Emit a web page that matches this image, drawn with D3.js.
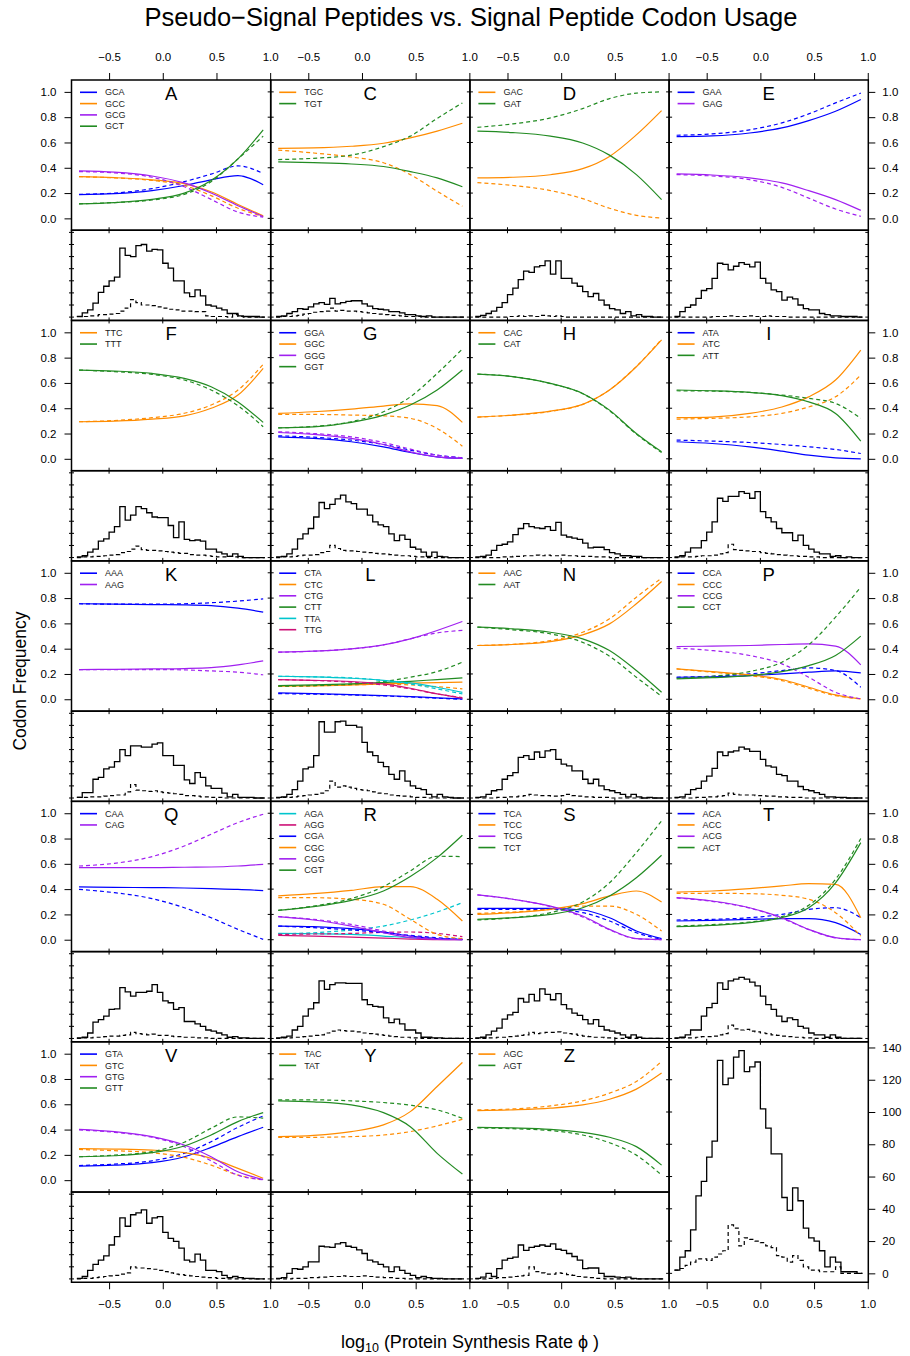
<!DOCTYPE html>
<html><head><meta charset="utf-8">
<script src="https://cdn.jsdelivr.net/npm/d3@7"></script>
<style>
body{margin:0;background:#fff}
svg{display:block}
text{font-family:"Liberation Sans",Arial,Helvetica,sans-serif}
</style>
</head><body>
<svg id="chart" width="910" height="1356"></svg>
<script>
// ---------------- DATA ----------------
const chartTitle = "Pseudo\u2212Signal Peptides vs. Signal Peptide Codon Usage";
const phiGrid = [-0.78, -0.45, -0.1, 0.2, 0.45, 0.7, 0.935];
const binStart = -0.8, binWidth = 0.05;
const xTickValues = [-0.5, 0, 0.5, 1.0];
const freqTickValues = [0, 0.2, 0.4, 0.6, 0.8, 1.0];
const countTickValues = [0, 20, 40, 60, 80, 100, 120, 140];
const panelIds = ["A","C","D","E","F","G","H","I","K","L","N","P","Q","R","S","T","V","Y","Z"];

const A_codons = ["GCA","GCC","GCG","GCT"];
const A_solid = [[0.187,0.195,0.22,0.26,0.305,0.338,0.266],[0.33,0.322,0.305,0.275,0.21,0.11,0.02],[0.375,0.365,0.335,0.28,0.20,0.10,0.015],[0.115,0.125,0.15,0.20,0.30,0.47,0.70]];
const A_dashed = [[0.19,0.20,0.235,0.29,0.35,0.415,0.355],[0.33,0.32,0.30,0.26,0.18,0.08,0.015],[0.37,0.36,0.325,0.25,0.15,0.05,0.01],[0.115,0.125,0.145,0.19,0.29,0.47,0.65]];
const A_histSolid = [1,7,12,23,41,51,60,66,114,102,100,118,120,109,112,111,89,81,60,60,40,34,45,35,20,18,15,12,6,6,2,1,1,1,0];
const A_histDashed = [1,1,2,2,4,4,5,6,10,15,29,24,20,20,19,17,15,13,12,10,10,10,9,9,2,1,1,1,0,4,1,0,0,0,0];

const C_codons = ["TGC","TGT"];
const C_solid = [[0.554,0.557,0.57,0.594,0.636,0.69,0.752],[0.446,0.44,0.43,0.41,0.37,0.32,0.25]];
const C_dashed = [[0.54,0.517,0.485,0.44,0.346,0.214,0.095],[0.465,0.475,0.50,0.567,0.65,0.79,0.913]];
const C_histSolid = [1,2,6,9,14,13,17,22,24,21,31,22,24,26,27,27,22,18,14,13,12,9,9,7,4,4,2,1,2,0,0,0,0,0,0];
const C_histDashed = [0,1,1,2,3,5,6,8,9,10,15,10,11,10,10,9,8,7,6,5,4,3,3,2,1,1,1,0,0,0,0,0,0,0,0];

const D_codons = ["GAC","GAT"];
const D_solid = [[0.32,0.325,0.345,0.393,0.49,0.66,0.852],[0.689,0.678,0.65,0.596,0.50,0.346,0.148]];
const D_dashed = [[0.282,0.26,0.22,0.156,0.08,0.024,0.003],[0.72,0.747,0.794,0.868,0.947,0.99,1.0]];
const D_histSolid = [1,3,6,10,16,24,37,48,62,76,74,83,85,93,71,93,64,64,56,51,42,34,39,28,20,14,12,6,9,2,4,1,1,0,0];
const D_histDashed = [0,0,0,0,0,0,1,1,2,1,2,1,3,2,1,2,1,0,0,0,0,0,0,0,0,0,0,0,0,0,0,0,0,0,0];

const E_codons = ["GAA","GAG"];
const E_solid = [[0.646,0.652,0.675,0.715,0.773,0.847,0.94],[0.351,0.343,0.32,0.28,0.219,0.148,0.063]];
const E_dashed = [[0.657,0.668,0.70,0.755,0.826,0.913,0.99],[0.346,0.335,0.306,0.245,0.16,0.074,0.016]];
const E_histSolid = [1,9,16,20,31,44,47,64,89,87,78,84,90,87,83,91,64,56,45,42,28,33,30,20,14,12,12,6,4,2,2,1,1,1,0];
const E_histDashed = [0,0,0,0,0,0,0,1,1,1,2,1,1,1,2,1,1,2,1,1,1,0,0,0,0,0,0,0,0,0,0,0,0,0,0];

const F_codons = ["TTC","TTT"];
const F_solid = [[0.293,0.298,0.314,0.34,0.40,0.504,0.715],[0.702,0.694,0.675,0.636,0.57,0.45,0.288]];
const F_dashed = [[0.293,0.303,0.325,0.36,0.425,0.544,0.747],[0.702,0.689,0.668,0.623,0.544,0.42,0.253]];
const F_histSolid = [1,3,9,14,27,31,42,51,84,62,70,84,81,74,67,66,66,53,33,59,30,28,29,27,14,14,9,6,2,6,2,0,0,0,0];
const F_histDashed = [0,1,1,2,2,3,4,5,8,10,14,19,13,12,12,11,10,9,8,7,7,5,4,4,3,2,1,1,2,1,0,0,0,0,0];

const G_codons = ["GGA","GGC","GGG","GGT"];
const G_solid = [[0.174,0.161,0.135,0.095,0.05,0.016,0.003],[0.359,0.372,0.393,0.417,0.435,0.42,0.288],[0.208,0.193,0.161,0.113,0.055,0.016,0.003],[0.245,0.253,0.288,0.346,0.425,0.544,0.702]];
const G_dashed = [[0.182,0.171,0.148,0.113,0.069,0.029,0.008],[0.351,0.351,0.346,0.34,0.32,0.24,0.10],[0.214,0.20,0.174,0.129,0.077,0.029,0.008],[0.245,0.256,0.293,0.372,0.49,0.675,0.868]];
const G_histSolid = [1,2,6,14,31,39,48,67,91,81,88,97,103,92,89,80,80,70,59,54,51,39,28,37,30,17,14,9,2,9,2,1,0,0,0];
const G_histDashed = [0,1,1,2,3,4,4,5,8,10,20,15,12,11,11,10,9,8,7,6,6,5,4,3,3,2,1,1,0,0,0,0,0,0,0];

const H_codons = ["CAC","CAT"];
const H_solid = [[0.33,0.346,0.377,0.43,0.544,0.728,0.94],[0.67,0.65,0.596,0.517,0.385,0.20,0.055]];
const H_dashed = [[0.33,0.345,0.375,0.43,0.545,0.73,0.945],[0.67,0.65,0.595,0.515,0.38,0.195,0.05]];
const H_histSolid = [1,2,4,12,20,22,26,38,48,56,51,49,48,51,45,58,37,34,32,30,24,16,17,17,13,8,6,3,3,2,2,0,0,0,0];
const H_histDashed = [0,0,0,0,0,1,1,2,2,3,3,4,3,4,3,3,4,3,3,2,2,2,1,1,1,0,0,0,0,0,0,0,0,0,0];

const I_codons = ["ATA","ATC","ATT"];
const I_solid = [[0.135,0.121,0.095,0.061,0.029,0.008,0.0],[0.325,0.33,0.359,0.41,0.49,0.623,0.86],[0.544,0.538,0.525,0.50,0.45,0.359,0.14]];
const I_dashed = [[0.148,0.14,0.129,0.113,0.095,0.074,0.042],[0.314,0.32,0.332,0.359,0.41,0.49,0.662],[0.538,0.535,0.525,0.504,0.478,0.438,0.32]];
const I_histSolid = [1,3,9,16,16,28,42,59,98,93,101,101,109,106,98,109,76,66,59,48,41,41,28,37,20,14,9,6,6,2,3,0,1,0,0];
const I_histDashed = [0,1,1,1,2,3,3,4,6,8,22,13,12,11,10,10,8,7,6,5,4,3,3,2,2,1,1,0,0,0,0,0,0,0,0];

const K_codons = ["AAA","AAG"];
const K_solid = [[0.755,0.752,0.749,0.747,0.741,0.72,0.689],[0.235,0.237,0.24,0.243,0.25,0.272,0.303]];
const K_dashed = [[0.755,0.752,0.752,0.755,0.763,0.776,0.794],[0.235,0.235,0.235,0.232,0.224,0.214,0.193]];
const K_histSolid = [1,9,9,31,34,48,51,60,80,70,86,86,84,84,89,91,70,70,54,54,30,24,42,34,20,16,16,8,2,6,1,1,1,0,0];
const K_histDashed = [1,1,2,2,2,3,4,5,5,10,22,13,12,11,12,10,9,8,7,6,4,4,3,2,2,1,1,0,0,0,0,0,0,0,0];

const L_codons = ["CTA","CTC","CTG","CTT","TTA","TTG"];
const L_solid = [[0.05,0.045,0.037,0.029,0.021,0.011,0.003],[0.103,0.106,0.113,0.121,0.127,0.132,0.135],[0.372,0.38,0.398,0.43,0.478,0.544,0.615],[0.108,0.113,0.121,0.132,0.142,0.156,0.169],[0.182,0.177,0.166,0.15,0.129,0.095,0.055],[0.156,0.15,0.14,0.121,0.087,0.042,0.008]];
const L_dashed = [[0.045,0.04,0.034,0.026,0.018,0.008,0.0],[0.103,0.106,0.113,0.119,0.113,0.10,0.082],[0.372,0.38,0.398,0.43,0.478,0.525,0.544],[0.103,0.108,0.119,0.14,0.174,0.219,0.293],[0.182,0.177,0.169,0.148,0.121,0.082,0.042],[0.156,0.148,0.135,0.113,0.082,0.042,0.013]];
const L_histSolid = [1,2,6,14,28,48,51,70,126,109,109,126,127,120,120,117,92,76,70,59,52,39,31,45,28,20,16,14,6,2,6,2,1,0,0];
const L_histDashed = [0,1,1,2,3,4,5,6,8,12,28,18,20,18,16,14,13,12,10,8,7,5,4,3,3,2,1,1,0,0,0,0,0,0,0];

const N_codons = ["AAC","AAT"];
const N_solid = [[0.425,0.433,0.456,0.509,0.596,0.755,0.931],[0.57,0.557,0.53,0.478,0.385,0.227,0.055]];
const N_dashed = [[0.425,0.435,0.464,0.53,0.636,0.807,0.958],[0.57,0.549,0.517,0.45,0.34,0.174,0.024]];
const N_histSolid = [1,2,6,12,14,31,37,42,67,70,64,76,67,78,80,64,56,53,45,45,31,24,31,20,14,12,9,6,2,6,2,0,1,0,0];
const N_histDashed = [0,0,0,0,1,1,2,2,3,4,6,5,4,4,3,3,4,6,4,3,2,2,1,1,1,0,0,0,0,0,0,0,0,0,0];

const P_codons = ["CCA","CCC","CCG","CCT"];
const P_solid = [[0.174,0.177,0.187,0.20,0.214,0.224,0.208],[0.24,0.219,0.193,0.156,0.095,0.034,0.003],[0.417,0.42,0.425,0.433,0.438,0.42,0.272],[0.161,0.171,0.187,0.219,0.266,0.346,0.499]];
const P_dashed = [[0.174,0.182,0.20,0.227,0.248,0.227,0.095],[0.24,0.214,0.187,0.148,0.087,0.029,0.003],[0.404,0.385,0.346,0.28,0.174,0.055,0.003],[0.166,0.182,0.219,0.293,0.43,0.649,0.887]];
const P_histSolid = [1,2,6,14,16,28,36,49,76,70,76,78,84,81,77,77,64,53,51,39,37,28,28,19,14,12,9,6,2,2,1,1,0,0,0];
const P_histDashed = [0,0,0,0,1,1,2,2,3,4,8,6,5,5,5,4,4,3,3,2,2,1,1,1,0,0,0,0,0,0,0,0,0,0,0];

const Q_codons = ["CAA","CAG"];
const Q_solid = [[0.417,0.414,0.412,0.409,0.404,0.398,0.388],[0.57,0.57,0.57,0.573,0.575,0.583,0.596]];
const Q_dashed = [[0.398,0.372,0.325,0.253,0.174,0.082,0.003],[0.583,0.604,0.657,0.741,0.834,0.926,0.992]];
const Q_histSolid = [1,2,9,27,31,37,48,49,84,77,70,76,76,78,89,76,62,59,48,51,28,28,24,20,14,12,9,6,2,3,1,1,0,0,0];
const Q_histDashed = [0,1,1,2,2,3,4,4,5,6,10,8,7,6,7,5,5,4,3,3,2,2,1,1,1,0,0,0,0,0,0,0,0,0,0];

const R_codons = ["AGA","AGG","CGA","CGC","CGG","CGT"];
const R_solid = [[0.05,0.047,0.042,0.029,0.016,0.008,0.003],[0.034,0.029,0.021,0.013,0.005,0.0,0.0],[0.108,0.103,0.087,0.061,0.029,0.008,0.0],[0.346,0.364,0.39,0.42,0.42,0.32,0.148],[0.182,0.156,0.108,0.055,0.016,0.003,0.0],[0.232,0.261,0.311,0.385,0.499,0.649,0.826]];
const R_dashed = [[0.047,0.055,0.077,0.108,0.156,0.219,0.293],[0.042,0.045,0.05,0.058,0.061,0.05,0.024],[0.108,0.095,0.077,0.055,0.034,0.016,0.003],[0.332,0.332,0.32,0.28,0.161,0.042,0.008],[0.182,0.161,0.121,0.069,0.029,0.008,0.003],[0.232,0.266,0.325,0.42,0.544,0.66,0.657]];
const R_histSolid = [1,2,4,14,20,37,49,59,95,81,89,92,92,91,91,91,64,56,53,52,34,26,32,24,14,14,9,2,2,1,1,0,0,0,0];
const R_histDashed = [0,1,1,2,2,3,4,5,6,9,12,14,13,12,12,11,9,8,7,6,5,4,3,2,2,1,1,0,0,0,0,0,0,0,0];

const S_codons = ["TCA","TCC","TCG","TCT"];
const S_solid = [[0.248,0.248,0.248,0.235,0.174,0.069,0.008],[0.20,0.214,0.24,0.285,0.346,0.385,0.298],[0.354,0.32,0.266,0.187,0.082,0.008,0.0],[0.161,0.174,0.20,0.253,0.346,0.49,0.668]];
const S_dashed = [[0.24,0.24,0.24,0.214,0.148,0.055,0.003],[0.208,0.219,0.24,0.266,0.266,0.20,0.069],[0.354,0.32,0.262,0.18,0.078,0.008,0.0],[0.156,0.174,0.214,0.298,0.45,0.689,0.94]];
const S_histSolid = [1,2,6,12,17,32,39,43,66,60,73,62,82,73,64,74,56,49,42,38,31,24,31,20,14,12,9,6,2,6,2,0,0,0,0];
const S_histDashed = [0,0,1,1,2,2,3,4,5,6,10,8,9,10,10,11,9,8,7,5,4,3,2,2,1,1,0,0,0,0,0,0,0,0,0];

const T_codons = ["ACA","ACC","ACG","ACT"];
const T_solid = [[0.148,0.153,0.161,0.166,0.166,0.135,0.042],[0.377,0.385,0.404,0.425,0.443,0.438,0.174],[0.332,0.306,0.253,0.174,0.082,0.016,0.0],[0.103,0.113,0.135,0.174,0.253,0.45,0.768]];
const T_dashed = [[0.156,0.161,0.174,0.20,0.24,0.253,0.174],[0.367,0.367,0.364,0.351,0.32,0.214,0.029],[0.33,0.303,0.25,0.17,0.08,0.015,0.0],[0.108,0.119,0.14,0.182,0.272,0.478,0.80]];
const T_histSolid = [1,2,6,14,14,37,51,58,92,81,95,98,101,98,93,87,70,56,48,37,28,34,31,20,17,9,6,6,2,6,2,0,0,0,0];
const T_histDashed = [0,1,1,1,2,3,3,4,6,8,22,16,14,15,12,11,9,8,6,5,4,3,2,2,1,1,0,0,0,0,0,0,0,0,0];

const V_codons = ["GTA","GTC","GTG","GTT"];
const V_solid = [[0.111,0.119,0.138,0.185,0.259,0.344,0.418],[0.249,0.246,0.238,0.217,0.172,0.093,0.015],[0.402,0.384,0.344,0.278,0.185,0.066,0.005],[0.185,0.193,0.217,0.27,0.357,0.463,0.534]];
const V_dashed = [[0.116,0.127,0.153,0.212,0.304,0.418,0.508],[0.243,0.233,0.217,0.18,0.119,0.04,0.003],[0.397,0.378,0.339,0.265,0.153,0.04,0.003],[0.185,0.198,0.225,0.30,0.41,0.50,0.49]];
const V_histSolid = [1,4,14,24,31,38,56,70,101,87,106,109,114,92,101,103,77,67,62,51,31,28,41,31,14,14,12,6,2,4,2,1,1,0,0];
const V_histDashed = [0,1,1,2,3,4,5,6,8,10,20,18,18,17,16,14,12,10,8,7,6,5,4,3,2,2,1,1,0,0,0,0,0,0,0];

const Y_codons = ["TAC","TAT"];
const Y_solid = [[0.344,0.354,0.384,0.437,0.542,0.741,0.931],[0.627,0.619,0.595,0.534,0.423,0.212,0.048]];
const Y_dashed = [[0.339,0.339,0.344,0.357,0.384,0.429,0.481],[0.635,0.635,0.627,0.614,0.593,0.556,0.489]];
const Y_histSolid = [1,2,9,17,16,20,28,28,54,53,52,58,60,54,52,48,42,31,28,24,20,12,20,14,9,6,2,4,2,1,1,0,0,0,0];
const Y_histDashed = [0,0,0,1,1,1,2,2,3,3,4,4,5,4,4,4,5,4,3,3,2,2,1,1,0,0,0,0,0,0,0,0,0,0,0];

const Z_codons = ["AGC","AGT"];
const Z_solid = [[0.55,0.556,0.569,0.595,0.64,0.72,0.847],[0.418,0.413,0.402,0.378,0.339,0.265,0.119]];
const Z_dashed = [[0.556,0.563,0.587,0.627,0.688,0.78,0.939],[0.413,0.407,0.392,0.357,0.296,0.198,0.04]];
const Z_histSolid = [1,3,9,4,17,31,34,36,56,47,52,54,56,54,58,49,47,42,37,31,17,18,18,9,4,4,3,2,3,1,0,0,0,0,0];
const Z_histDashed = [0,0,1,1,2,2,3,4,5,6,20,12,10,8,8,10,9,7,6,4,3,2,1,1,0,0,0,0,0,0,0,0,0,0,0];

const all_histSolid = [2,10,14,27,48,57,72,82,132,117,121,134,138,125,128,131,102,90,74,74,47,39,53,45,28,22,20,14,4,10,7,1,1,1,0];
const all_histDashed = [2,3,5,7,9,9,8,10,12,14,30,28,17,22,21,20,19,17,16,11,10,7,11,8,4,2,2,1,1,1,4,0,0,0,0];

// table built from the arrays above
const panelData = {
  A:[A_codons,A_solid,A_dashed,A_histSolid,A_histDashed], C:[C_codons,C_solid,C_dashed,C_histSolid,C_histDashed],
  D:[D_codons,D_solid,D_dashed,D_histSolid,D_histDashed], E:[E_codons,E_solid,E_dashed,E_histSolid,E_histDashed],
  F:[F_codons,F_solid,F_dashed,F_histSolid,F_histDashed], G:[G_codons,G_solid,G_dashed,G_histSolid,G_histDashed],
  H:[H_codons,H_solid,H_dashed,H_histSolid,H_histDashed], I:[I_codons,I_solid,I_dashed,I_histSolid,I_histDashed],
  K:[K_codons,K_solid,K_dashed,K_histSolid,K_histDashed], L:[L_codons,L_solid,L_dashed,L_histSolid,L_histDashed],
  N:[N_codons,N_solid,N_dashed,N_histSolid,N_histDashed], P:[P_codons,P_solid,P_dashed,P_histSolid,P_histDashed],
  Q:[Q_codons,Q_solid,Q_dashed,Q_histSolid,Q_histDashed], R:[R_codons,R_solid,R_dashed,R_histSolid,R_histDashed],
  S:[S_codons,S_solid,S_dashed,S_histSolid,S_histDashed], T:[T_codons,T_solid,T_dashed,T_histSolid,T_histDashed],
  V:[V_codons,V_solid,V_dashed,V_histSolid,V_histDashed], Y:[Y_codons,Y_solid,Y_dashed,Y_histSolid,Y_histDashed],
  Z:[Z_codons,Z_solid,Z_dashed,Z_histSolid,Z_histDashed]
};

// ---------------- STYLE / LAYOUT ----------------
const FONT = '"Liberation Sans",Arial,Helvetica,sans-serif';
const left0 = 71.5, pw = 199.2, top0 = 80, rowH = 240.45, curveH = 150.25, histH = rowH - curveH;
const xDom = [-0.85, 1.005], yDomC = [-0.094, 1.094], yDomH = [-5.52, 143.52];
const baseColors = {A:"#0000FF", C:"#FF8C00", G:"#A020F0", T:"#228B22"};
const sixExtra = {A:"#00C5CD", G:"#CD1076"};
function codonColor(codon, codons){
  if (codons.length === 6){
    const counts = d3.rollup(codons, v=>v.length, c=>c.slice(0,2));
    if (counts.get(codon.slice(0,2)) === 2) return sixExtra[codon[2]];
  }
  return baseColors[codon[2]];
}
const fmt1 = d3.format(".1f");
const svg = d3.select("#chart");
svg.append("rect").attr("width",910).attr("height",1356).attr("fill","#fff");

function crossY(g, scale, vals, xpos, a, b){
  g.append("g").selectAll("line").data(vals).join("line")
    .attr("x1",xpos-a).attr("x2",xpos+b).attr("y1",d=>scale(d)).attr("y2",d=>scale(d))
    .attr("stroke","#000").attr("stroke-width",1);
}
function crossX(g, scale, vals, ypos, a, b){
  g.append("g").selectAll("line").data(vals).join("line")
    .attr("y1",ypos-a).attr("y2",ypos+b).attr("x1",d=>scale(d)).attr("x2",d=>scale(d))
    .attr("stroke","#000").attr("stroke-width",1);
}
function styleAxis(sel){
  sel.select(".domain").remove();
  sel.selectAll(".tick line").attr("stroke","#000").attr("stroke-width",1);
  sel.selectAll(".tick text").attr("fill","#000").style("font-family",FONT).style("font-size","11.5px");
}
function histPath(counts, x, y){
  const pts = counts.map((c,k)=>[binStart + k*binWidth, c]);
  pts.push([binStart + counts.length*binWidth, counts[counts.length-1]]);
  return d3.line().x(d=>x(d[0])).y(d=>y(d[1])).curve(d3.curveStepAfter)(pts);
}

const gAxes = svg.append("g");
panelIds.forEach((id, i)=>{
  const [codons, solid, dashed, hSolid, hDashed] = panelData[id];
  const r = Math.floor(i/4), c = i%4;
  const x0 = left0 + c*pw, y0 = top0 + r*rowH;
  const x = d3.scaleLinear().domain(xDom).range([x0, x0+pw]);
  const yC = d3.scaleLinear().domain(yDomC).range([y0+curveH, y0]);
  const yH = d3.scaleLinear().domain(yDomH).range([y0+rowH, y0+curveH]);
  const g = svg.append("g");
  const line = d3.line().x((d,k)=>x(phiGrid[k])).y(d=>yC(d)).curve(d3.curveMonotoneX);
  codons.forEach((cod,j)=>{
    const col = codonColor(cod, codons);
    g.append("path").attr("d", line(dashed[j])).attr("fill","none").attr("stroke",col)
      .attr("stroke-width",1.2).attr("stroke-dasharray","4,3");
    g.append("path").attr("d", line(solid[j])).attr("fill","none").attr("stroke",col).attr("stroke-width",1.2);
    // legend
    const ly = y0 + 12.3 + j*11.3;
    g.append("line").attr("x1",x0+8.5).attr("x2",x0+25.5).attr("y1",ly).attr("y2",ly)
      .attr("stroke",col).attr("stroke-width",1.6);
    g.append("text").attr("x",x0+33.5).attr("y",ly).attr("dy","0.35em").text(cod)
      .style("font-family",FONT).style("font-size","9px").attr("fill","#222");
  });
  g.append("text").attr("x",x0+pw/2).attr("y",y0+19.8).attr("text-anchor","middle").text(id)
    .style("font-family",FONT).style("font-size","18.5px").attr("fill","#000");
  // histogram
  g.append("path").attr("d", histPath(hDashed, x, yH)).attr("fill","none").attr("stroke","#000")
    .attr("stroke-width",1.2).attr("stroke-dasharray","4,3");
  g.append("path").attr("d", histPath(hSolid, x, yH)).attr("fill","none").attr("stroke","#000").attr("stroke-width",1.3);
  // frames
  g.append("rect").attr("x",x0).attr("y",y0).attr("width",pw).attr("height",curveH)
    .attr("fill","none").attr("stroke","#000").attr("stroke-width",1.5);
  g.append("rect").attr("x",x0).attr("y",y0+curveH).attr("width",pw).attr("height",histH)
    .attr("fill","none").attr("stroke","#000").attr("stroke-width",1.5);
  // ticks
  if (c === 0){
    const ax = gAxes.append("g").attr("transform",`translate(${x0},0)`)
      .call(d3.axisLeft(yC).tickValues(freqTickValues).tickFormat(fmt1).tickSize(7).tickPadding(8));
    styleAxis(ax);
    crossY(g, yH, countTickValues, x0, 2.5, 2.5);
  } else {
    crossY(g, yC, freqTickValues, x0, 3, 3);
    crossY(g, yH, countTickValues, x0, 3, 3);
  }
  if (c === 3){
    const ax = gAxes.append("g").attr("transform",`translate(${x0+pw},0)`)
      .call(d3.axisRight(yC).tickValues(freqTickValues).tickFormat(fmt1).tickSize(7).tickPadding(7));
    styleAxis(ax);
    crossY(g, yH, countTickValues, x0+pw, 3, 0);
  }
  if (r === 0){
    const ax = gAxes.append("g").attr("transform",`translate(0,${y0})`)
      .call(d3.axisTop(x).tickValues(xTickValues).tickFormat(fmt1).tickSize(7).tickPadding(12));
    styleAxis(ax);
  } else {
    crossX(g, x, xTickValues.slice(0,3), y0, 3, 3);
  }
  crossX(g, x, xTickValues.slice(0,3), y0+curveH, 3, 3);
  if (r === 4){
    const ax = gAxes.append("g").attr("transform",`translate(0,${y0+rowH})`)
      .call(d3.axisBottom(x).tickValues(xTickValues).tickFormat(fmt1).tickSize(7).tickPadding(11));
    styleAxis(ax);
  }
});

// big overall histogram (row 5, column 4)
{
  const x0 = left0 + 3*pw, y0 = top0 + 4*rowH;
  const x = d3.scaleLinear().domain(xDom).range([x0, x0+pw]);
  const yB = d3.scaleLinear().domain(yDomH).range([y0+rowH, y0]);
  const g = svg.append("g");
  g.append("path").attr("d", histPath(all_histDashed, x, yB)).attr("fill","none").attr("stroke","#000")
    .attr("stroke-width",1.2).attr("stroke-dasharray","4,3");
  g.append("path").attr("d", histPath(all_histSolid, x, yB)).attr("fill","none").attr("stroke","#000").attr("stroke-width",1.3);
  g.append("rect").attr("x",x0).attr("y",y0).attr("width",pw).attr("height",rowH)
    .attr("fill","none").attr("stroke","#000").attr("stroke-width",1.5);
  crossY(g, yB, countTickValues, x0, 3, 3);
  crossX(g, x, xTickValues.slice(0,3), y0, 3, 3);
  const axR = gAxes.append("g").attr("transform",`translate(${x0+pw},0)`)
    .call(d3.axisRight(yB).tickValues(countTickValues).tickFormat(d3.format("d")).tickSize(7).tickPadding(7));
  styleAxis(axR);
  const axB = gAxes.append("g").attr("transform",`translate(0,${y0+rowH})`)
    .call(d3.axisBottom(x).tickValues(xTickValues).tickFormat(fmt1).tickSize(7).tickPadding(11));
  styleAxis(axB);
}
gAxes.raise();

// titles
svg.append("text").attr("x",471).attr("y",26).attr("text-anchor","middle").text(chartTitle)
  .style("font-family",FONT).style("font-size","25.5px").attr("fill","#000");
svg.append("text").attr("transform","translate(26,681) rotate(-90)").attr("text-anchor","middle")
  .text("Codon Frequency").style("font-family",FONT).style("font-size","17.5px").attr("fill","#000");
const xt = svg.append("text").attr("x",470).attr("y",1348).attr("text-anchor","middle")
  .style("font-family",FONT).style("font-size","18px").attr("fill","#000");
xt.append("tspan").text("log");
xt.append("tspan").text("10").attr("dy","4").style("font-size","12.5px");
xt.append("tspan").text(" (Protein Synthesis Rate \u03D5 )").attr("dy","-4");
</script>
</body></html>
